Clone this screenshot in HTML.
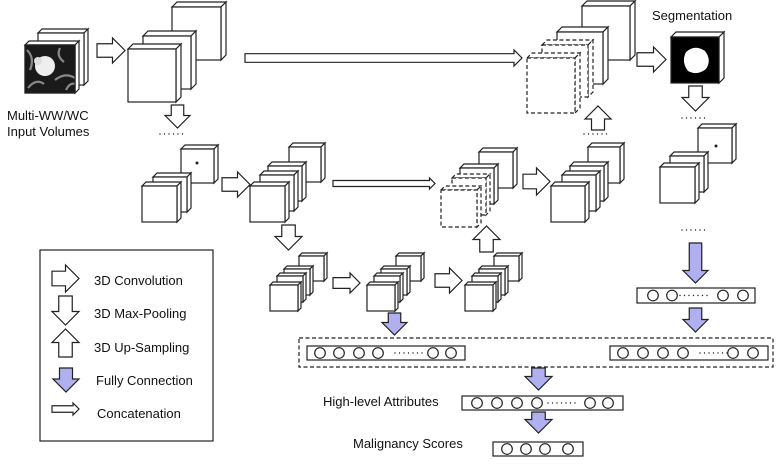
<!DOCTYPE html>
<html><head><meta charset="utf-8">
<style>
html,body{margin:0;padding:0;background:#fff;width:776px;height:464px;overflow:hidden}
svg text{font-family:"Liberation Sans",sans-serif;font-size:13px;fill:#111}
</style></head>
<body>
<svg id="s" width="776" height="464" viewBox="0 0 776 464" xmlns="http://www.w3.org/2000/svg">
<g id="g" stroke="#222" stroke-width="1.2" fill="#fff" stroke-linejoin="miter"></g>
<text x="7" y="120">Multi-WW/WC</text>
<text x="7" y="136">Input Volumes</text>
<text x="652" y="20">Segmentation</text>
<text x="94" y="285">3D Convolution</text>
<text x="94" y="318">3D Max-Pooling</text>
<text x="94" y="352">3D Up-Sampling</text>
<text x="96" y="385">Fully Connection</text>
<text x="97" y="418">Concatenation</text>
<text x="323" y="406">High-level Attributes</text>
<text x="353" y="448">Malignancy Scores</text>
</svg>
<script>
var g=document.getElementById('g');var NS='http://www.w3.org/2000/svg';
function el(t,a){var e=document.createElementNS(NS,t);for(var k in a)e.setAttribute(k,a[k]);g.appendChild(e);return e;}
function cube(x,y,w,h,d,dash,fill){var st={};if(dash)st['stroke-dasharray']='4,2.5';
 el('polygon',Object.assign({points:[x,y,x+d,y-d,x+w+d,y-d,x+w,y].join(' ')},st));
 el('polygon',Object.assign({points:[x+w,y,x+w+d,y-d,x+w+d,y+h-d,x+w,y+h].join(' ')},st));
 el('rect',Object.assign({x:x,y:y,width:w,height:h,fill:fill||'#fff'},st));}
function rarrow(x,y,w,h,thin,fill){var m=y+h/2,sh=h*0.27,hx=x+w-h*0.5;
 el('polygon',{points:[x,m-sh,hx,m-sh,hx,y,x+w,m,hx,y+h,hx,m+sh,x,m+sh].join(' '),fill:fill||'#fff'});}
function darrow(x,y,w,h,fill,up){var c=x+w/2,sw=w*0.25,hy=h-w*0.5;var p;
 if(!up)p=[c-sw,y,c+sw,y,c+sw,y+hy,x+w,y+hy,c,y+h,x,y+hy,c-sw,y+hy];
 else p=[c-sw,y+h,c+sw,y+h,c+sw,y+h-hy,x+w,y+h-hy,c,y,x,y+h-hy,c-sw,y+h-hy];
 el('polygon',{points:p.join(' '),fill:fill||'#fff'});}
function dots(x,y,n){for(var i=0;i<n;i++)el('circle',{cx:x+i*4.5,cy:y,r:0.7,fill:'#222',stroke:'none'});}
function fc(x,y,w,h,cs,dx){el('rect',{x:x,y:y,width:w,height:h});cs.forEach(function(c){el('circle',{cx:c,cy:y+h/2,r:5.3});});if(dx)dots(dx,y+h/2,7);}
var B='#b0b0f0';
// input
cube(38,33,46,52,4);cube(25,45,50,48,4,false,'#1a1a1a');
el('path',{d:'M27 50 Q35 58 30 70 M60 48 Q56 56 64 62 M28 88 Q36 78 44 84 M55 80 Q65 72 75 78 M66 90 Q70 82 75 84',stroke:'#888',fill:'none','stroke-width':2.2});
el('circle',{cx:45,cy:66,r:10,fill:'#eee',stroke:'none'});
el('circle',{cx:38,cy:61,r:4,fill:'#ddd',stroke:'none'});
el('rect',{x:25,y:45,width:50,height:48,fill:'none'});
rarrow(97,38,28,25);
// stage1
cube(172,7,49,53,5);cube(143,36,48,53,5);cube(128,49,48,53,5);
darrow(165,105,25,23);dots(160,134,6);
rarrow(245,50,277,16,true);
// row2 left
cube(181,149,33,34,4);el('circle',{cx:197,cy:163,r:0.9,fill:'#222'});
cube(153,177,34,35,4);cube(142,186,35,36,4);
rarrow(222,172,28,25);
cube(289,147,32,35,4);cube(268,166,34,35,4);cube(260,175,34,36,4);cube(250,186,35,36,4);
rarrow(333,178,102,11,true);
cube(479,152,34,36,4);cube(460,168,34,36,4);cube(452,178,34,37,4,true);cube(441,190,36,37,4,true);
darrow(473,226,27,26,null,true);
rarrow(523,168,27,27);
cube(588,147,32,36,4);cube(570,166,34,35,4);cube(562,175,34,36,4);cube(551,186,34,36,4);
// top decoder
cube(582,6,48,54,5);cube(557,32,46,52,5);cube(542,45,46,52,5,true);cube(527,58,48,55,5,true);
darrow(585,106,26,24,null,true);dots(584,134,6);
rarrow(637,47,29,25);
cube(671,37,48,46,5,false,'#000');
el('path',{d:'M686 52 Q695 44 705 51 Q712 60 706 69 Q697 76 688 71 Q681 62 686 52Z',fill:'#fff',stroke:'none'});
darrow(682,86,27,25);dots(682,118,6);
cube(698,128,34,35,4);el('circle',{cx:716,cy:146,r:0.9,fill:'#222'});
cube(670,156,34,36,4);cube(660,167,35,36,4);dots(682,230,6);
// row3
darrow(275,225,27,25);
function grp(x){cube(x+29,256,25,25,3);cube(x+14,269,26,26,3);cube(x+7,276,26,26,3);cube(x,285,28,26,3);}
grp(270);rarrow(333,273,27,20);grp(367);rarrow(435,268,27,25);grp(465);
darrow(382,313,25,22,B);
darrow(683,243,25,40,B);
fc(637,288,118,15,[653,672,723,743],680);
darrow(683,308,25,24,B);
el('rect',{x:299,y:338,width:474,height:29,fill:'none','stroke-dasharray':'4,2.5'});
fc(307,346,158,14,[320,339,359,378,433,451],395);
fc(610,346,158,14,[623,643,663,683,733,753],700);
darrow(525,368,27,22,B);
fc(462,396,161,14,[477,497,517,537,590,608],548);
darrow(525,412,27,21,B);
fc(493,442,90,14,[507,526,545,568]);
// legend
el('rect',{x:40,y:250,width:173,height:191,fill:'none'});
rarrow(52,265,27,27);darrow(52,296,27,29);darrow(52,329,27,28,null,true);darrow(53,368,26,24,B);rarrow(52,403,27,12,true);
</script>
</body></html>
